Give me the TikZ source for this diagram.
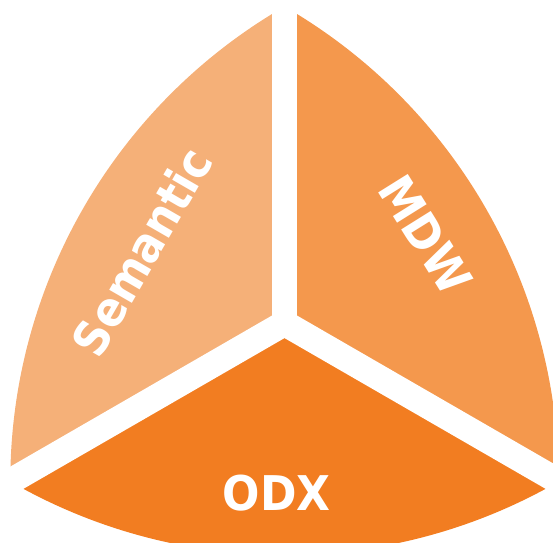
\documentclass[tikz,border=0pt]{standalone}
\usepackage{fontspec}
\setmainfont{DejaVu Sans}[FakeStretch=0.92]
\definecolor{semcol}{RGB}{245,176,120}
\definecolor{mdwcol}{RGB}{244,152,77}
\definecolor{odxcol}{RGB}{242,125,33}

\begin{document}
\begin{tikzpicture}[x=1bp,y=1bp,lab/.style={text=white,font=\bfseries\fontsize{48}{48}\selectfont},gap/.style={white,line width=25.8bp,line cap=round}]
\useasboundingbox (-284.5,-219.8) rectangle (268.5,323.2);
\clip (-284.5,-219.8) rectangle (268.5,323.2);
\coordinate (o) at (0,0);
\coordinate (a) at (90:316.6);
\coordinate (b) at (210:316.6);
\coordinate (c) at (330:316.6);
\fill[semcol] (o) -- (a) arc[start angle=120,end angle=180,radius=548.4] -- cycle;
\fill[mdwcol] (o) -- (c) arc[start angle=0,end angle=60,radius=548.4] -- cycle;
\fill[odxcol] (o) -- (b) arc[start angle=240,end angle=300,radius=548.4] -- cycle;
\foreach \v in {a,b,c}{\draw[gap] (o) -- (\v);};
\node[lab,rotate=60] (sem) at (-143,71.7) {Semantic};
\node[lab,rotate=-58] (mdw) at (141,88.2) {MDW};
\node[lab] (odx) at (-7.8,-170.1) {ODX};
\end{tikzpicture}
\end{document}
